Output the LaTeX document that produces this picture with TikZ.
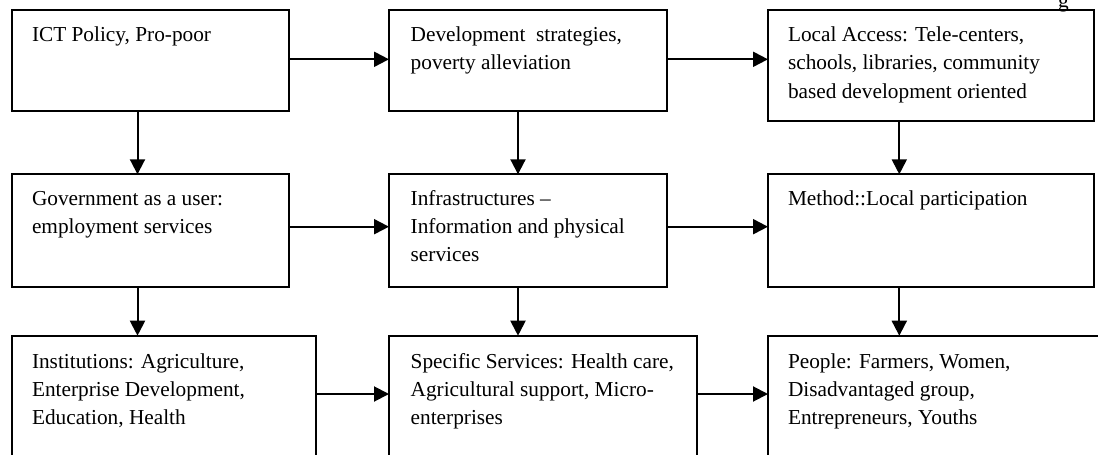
\documentclass[tikz,border=0pt]{standalone}
\usepackage{fontspec}
\setmainfont{Liberation Serif}
\usetikzlibrary{arrows.meta,calc}
\begin{document}
\begin{tikzpicture}[x=1pt,y=-1pt,
  box/.style={draw=black, line width=2pt, inner sep=0pt, outer sep=0pt, anchor=north west},
  txt/.style={anchor=north west, inner sep=0pt, outer sep=0pt, align=left, font=\fontsize{21.3}{28.3}\selectfont},
  arr/.style={line width=2pt, -{Triangle[length=15pt,width=15pt]}}]
\useasboundingbox (0,0) rectangle (1098,455);
% header fragment
\node[anchor=base west, inner sep=0pt, font=\fontsize{21.3}{28.3}\selectfont] (hdr) at (1058,7) {g};
% boxes
\node[box, minimum width=277pt, minimum height=101pt] (b11) at (12,9.5) {};
\node[box, minimum width=278pt, minimum height=101pt] (b12) at (389,9.5) {};
\node[box, minimum width=326pt, minimum height=111.2pt] (b13) at (768,9.5) {};
\node[box, minimum width=277pt, minimum height=112.4pt] (b21) at (12,174.3) {};
\node[box, minimum width=278pt, minimum height=112.4pt] (b22) at (389,174.3) {};
\node[box, minimum width=326pt, minimum height=112.4pt] (b23) at (768,174.3) {};
\node[box, minimum width=304pt, minimum height=140pt] (b31) at (12,335.7) {};
\node[box, minimum width=308pt, minimum height=140pt] (b32) at (389,335.7) {};
\node[box, minimum width=360pt, minimum height=140pt] (b33) at (768,335.7) {};
% texts
\node[txt] (t11) at ($(b11.north west)+(20,12.2)$) {\strut ICT Policy, Pro-poor};
\node[txt] (t12) at ($(b12.north west)+(21.7,12.2)$) {\strut Development\ \ strategies,\\poverty alleviation};
\node[txt] (t13) at ($(b13.north west)+(20,12.2)$) {\strut Local Access: Tele-centers,\\schools, libraries, community\\based development oriented};
\node[txt] (t21) at ($(b21.north west)+(20,10.9)$) {\strut Government as a user:\\employment services};
\node[txt] (t22) at ($(b22.north west)+(21.7,10.9)$) {\strut Infrastructures --\\Information and physical\\services};
\node[txt] (t23) at ($(b23.north west)+(20,10.9)$) {\strut Method::Local participation};
\node[txt] (t31) at ($(b31.north west)+(20,12.8)$) {\strut Institutions: Agriculture,\\Enterprise Development,\\Education, Health};
\node[txt] (t32) at ($(b32.north west)+(21.7,12.8)$) {\strut Specific Services: Health care,\\Agricultural support, Micro-\\enterprises};
\node[txt] (t33) at ($(b33.north west)+(20,12.8)$) {\strut People: Farmers, Women,\\Disadvantaged group,\\Entrepreneurs, Youths};
% guide coordinates
\coordinate (r1) at (0,59.3);
\coordinate (r2) at (0,226.7);
\coordinate (r3) at (0,394);
\coordinate (c1) at (137.5,0);
\coordinate (c2) at (518,0);
\coordinate (c3) at (899.3,0);
% horizontal arrows
\draw[arr] (b11.east |- r1) -- (b12.west |- r1);
\draw[arr] (b12.east |- r1) -- (b13.west |- r1);
\draw[arr] (b21.east |- r2) -- (b22.west |- r2);
\draw[arr] (b22.east |- r2) -- (b23.west |- r2);
\draw[arr] (b31.east |- r3) -- (b32.west |- r3);
\draw[arr] (b32.east |- r3) -- (b33.west |- r3);
% vertical arrows
\draw[arr] (b11.south -| c1) -- (b21.north -| c1);
\draw[arr] (b12.south -| c2) -- (b22.north -| c2);
\draw[arr] (b13.south -| c3) -- (b23.north -| c3);
\draw[arr] (b21.south -| c1) -- (b31.north -| c1);
\draw[arr] (b22.south -| c2) -- (b32.north -| c2);
\draw[arr] (b23.south -| c3) -- (b33.north -| c3);
\end{tikzpicture}
\end{document}
